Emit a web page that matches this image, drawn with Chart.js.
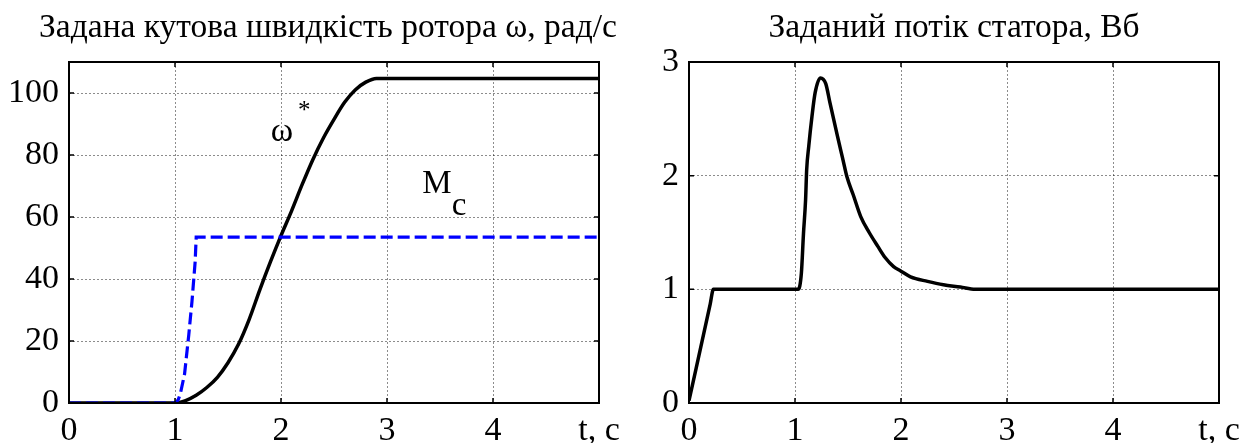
<!DOCTYPE html>
<html>
<head>
<meta charset="utf-8">
<script src="https://cdn.jsdelivr.net/npm/chart.js@4.4.0/dist/chart.umd.min.js"></script>
<style>
  body { margin: 0; background: #fff; }
  .panel { position: absolute; top: 0; height: 443px; }
  #left { left: 0; width: 630px; }
  #right { left: 630px; width: 622px; }
</style>
</head>
<body>
<div class="panel" id="left"><canvas id="speedChart" width="630" height="443"></canvas></div>
<div class="panel" id="right"><canvas id="fluxChart" width="622" height="443"></canvas></div>
<script>
const SERIF = '"Liberation Serif", "Times New Roman", serif';

// reference speed ω*, rad/s
const speedTime = [0, 1.0, 1.1, 1.2, 1.3, 1.4, 1.5, 1.6, 1.7, 1.8, 1.9, 2.0, 2.1, 2.2, 2.3, 2.4, 2.5, 2.6, 2.7, 2.8, 2.9, 5.0];
const speedRef = [0, 0, 0.8, 2.5, 5, 8.3, 13, 19, 27, 36.5, 45.5, 54, 62, 70.5, 78.5, 85.5, 91.5, 97, 101, 103.5, 104.7, 104.7];

// load torque Mc
const loadTime = [0, 1.0, 1.03, 1.05, 1.09, 1.13, 1.16, 1.19, 1.2, 5.0];
const loadTorque = [0, 0, 1, 2.9, 9.3, 22, 32.7, 45.5, 53.5, 53.5];

// reference stator flux, Wb
const fluxTime = [0, 0.2, 0.23, 1.03, 1.06, 1.08, 1.10, 1.11, 1.13, 1.16, 1.19, 1.24, 1.29, 1.33, 1.40, 1.45, 1.49, 1.55, 1.62, 1.70, 1.78, 1.85, 1.93, 2.0, 2.09, 2.25, 2.4, 2.56, 2.7, 5.0];
const fluxRef = [0.02, 0.87, 1, 1, 1.14, 1.49, 1.79, 2.05, 2.26, 2.52, 2.73, 2.86, 2.81, 2.64, 2.35, 2.15, 1.99, 1.83, 1.64, 1.50, 1.38, 1.28, 1.20, 1.16, 1.11, 1.07, 1.04, 1.02, 1.0, 1.0];

const speedNotes = [
  { text: 'ω', t: 2.01, v: 87.5, size: 34 },
  { text: '*', t: 2.22, v: 94, size: 25 },
  { text: 'M', t: 3.47, v: 70.5, size: 33 },
  { text: 'c', t: 3.68, v: 63.5, size: 33 }
];

const zip = (xs, ys) => xs.map((x, i) => ({ x, y: ys[i] }));

// MATLAB-like box with inward tick marks
const frame = {
  id: 'frame',
  afterDatasetsDraw(chart) {
    const { ctx, chartArea: a, scales: { x, y } } = chart;
    ctx.save();
    ctx.strokeStyle = '#000';
    ctx.lineWidth = 1.5;
    ctx.beginPath();
    x.ticks.forEach(t => {
      const px = x.getPixelForValue(t.value);
      ctx.moveTo(px, a.bottom); ctx.lineTo(px, a.bottom - 5);
      ctx.moveTo(px, a.top); ctx.lineTo(px, a.top + 5);
    });
    y.ticks.forEach(t => {
      const py = y.getPixelForValue(t.value);
      ctx.moveTo(a.left, py); ctx.lineTo(a.left + 5, py);
      ctx.moveTo(a.right, py); ctx.lineTo(a.right - 5, py);
    });
    ctx.stroke();
    ctx.lineWidth = 2;
    ctx.strokeRect(a.left, a.top, a.width, a.height);
    ctx.restore();
  }
};

// title drawn above the plot box, without squeezing it to the box width
const heading = {
  id: 'heading',
  afterDraw(chart, args, opts) {
    const { ctx, chartArea: a } = chart;
    ctx.save();
    ctx.fillStyle = '#000';
    ctx.font = `33.5px ${SERIF}`;
    ctx.textAlign = 'center';
    ctx.textBaseline = 'alphabetic';
    ctx.fillText(opts.text, (a.left + a.right) / 2 + (opts.dx || 0), 37);
    ctx.restore();
  }
};

const notes = {
  id: 'notes',
  afterDatasetsDraw(chart) {
    const { ctx, scales: { x, y } } = chart;
    ctx.save();
    ctx.fillStyle = '#000';
    ctx.textAlign = 'center';
    ctx.textBaseline = 'middle';
    speedNotes.forEach(n => {
      ctx.font = `${n.size}px ${SERIF}`;
      ctx.fillText(n.text, x.getPixelForValue(n.t), y.getPixelForValue(n.v));
    });
    ctx.restore();
  }
};

function makeOptions(title, dx, yMax, yStep, yWidth, rightPad) {
  const font = { family: SERIF, size: 34 };
  const grid = {
    color: 'rgba(0,0,0,0.45)',
    lineWidth: 1,
    drawTicks: false
  };
  return {
    responsive: false,
    animation: false,
    layout: { padding: { left: 0, right: rightPad, top: 62, bottom: 0 } },
    plugins: {
      legend: { display: false },
      tooltip: { enabled: false },
      title: { display: false },
      heading: { text: title, dx }
    },
    scales: {
      x: {
        type: 'linear',
        min: 0,
        max: 5,
        grid: { ...grid, borderDash: [2, 2] },
        border: { display: false, dash: [2, 2] },
        ticks: {
          stepSize: 1,
          color: '#000',
          font,
          padding: 8,
          maxRotation: 0,
          callback: v => (v === 5 ? 't, c' : v)
        },
        afterFit: s => { s.height = 40; }
      },
      y: {
        min: 0,
        max: yMax,
        grid,
        border: { display: false, dash: [2, 2] },
        ticks: {
          stepSize: yStep,
          includeBounds: false,
          color: '#000',
          font,
          padding: 10
        },
        afterFit: s => { s.width = yWidth; }
      }
    }
  };
}

new Chart(document.getElementById('speedChart'), {
  type: 'line',
  data: {
    datasets: [
      {
        label: 'Mc',
        data: zip(loadTime, loadTorque),
        borderColor: '#0000ff',
        borderWidth: 3.2,
        borderDash: [12, 5],
        pointRadius: 0,
        tension: 0
      },
      {
        label: 'ω*',
        data: zip(speedTime, speedRef),
        borderColor: '#000',
        borderWidth: 3.5,
        pointRadius: 0,
        cubicInterpolationMode: 'monotone'
      }
    ]
  },
  options: makeOptions('Задана кутова швидкість ротора ω, рад/с', -6, 110, 20, 69, 31),
  plugins: [frame, notes, heading]
});

new Chart(document.getElementById('fluxChart'), {
  type: 'line',
  data: {
    datasets: [
      {
        label: 'Ψs*',
        data: zip(fluxTime, fluxRef),
        borderColor: '#000',
        borderWidth: 3.5,
        pointRadius: 0,
        cubicInterpolationMode: 'monotone'
      }
    ]
  },
  options: makeOptions('Заданий потік статора, Вб', 0, 3, 1, 59, 33),
  plugins: [frame, heading]
});
</script>
</body>
</html>
